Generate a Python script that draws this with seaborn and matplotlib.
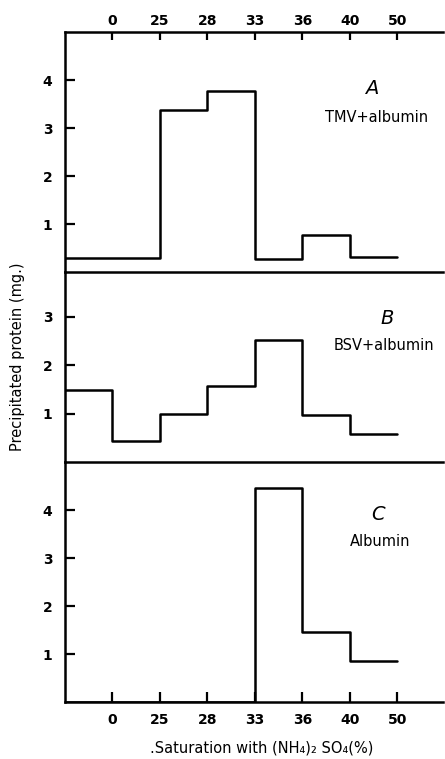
import matplotlib
matplotlib.use("Agg")
import matplotlib.pyplot as plt
import seaborn as sns
import numpy as np
import pandas as pd

# ---- data ----
x_labels = ["0", "25", "28", "33", "36", "40", "50"]
# segment values: [start..0], [0..25], [25..28], [28..33], [33..36], [36..40], [40..50]
tmv_albumin = [0.30, 0.30, 3.38, 3.77, 0.27, 0.77, 0.32]
bsv_albumin = [1.49, 0.44, 1.00, 1.57, 2.53, 0.97, 0.57]
albumin = [0.0, 0.0, 0.0, 0.0, 4.45, 1.46, 0.85]
panel_letters = ["A", "B", "C"]
panel_names = ["TMV+albumin", "BSV+albumin", "Albumin"]
y_ticks_A = [1, 2, 3, 4]
y_ticks_B = [1, 2, 3]
y_ticks_C = [1, 2, 3, 4]

sns.set_style("ticks")
plt.rcParams["font.family"] = ["DejaVu Sans"]
plt.rcParams["text.color"] = "black"
plt.rcParams["xtick.color"] = "black"
plt.rcParams["ytick.color"] = "black"
plt.rcParams["xtick.labelcolor"] = "black"
plt.rcParams["ytick.labelcolor"] = "black"

W, H = 445, 759
fig = plt.figure(figsize=(W / 100, H / 100), dpi=100)

def fx(px):
    return px / W

def fy(py):
    return 1 - py / H

left, right = 65, 443
bounds = [(32, 272), (272, 462), (462, 702)]
axes = []
for top, bot in bounds:
    ax = fig.add_axes([fx(left), fy(bot), fx(right) - fx(left), fy(top) - fy(bot)])
    axes.append(ax)

edges = list(range(-1, len(x_labels)))  # -1..6
series = [tmv_albumin, bsv_albumin, albumin]
ylims = [5.0, 3.93, 5.0]
yticks = [y_ticks_A, y_ticks_B, y_ticks_C]

for i, (ax, vals) in enumerate(zip(axes, series)):
    df = pd.DataFrame({"x": edges, "y": list(vals) + [vals[-1]]})
    sns.lineplot(data=df, x="x", y="y", ax=ax, drawstyle="steps-post",
                 color="black", lw=1.8, estimator=None, sort=False)
    ax.set_xlim(-1, 6.96)
    ax.set_ylim(0, ylims[i])
    ax.set_xlabel("")
    ax.set_ylabel("")
    for s in ["top", "bottom", "left", "right"]:
        ax.spines[s].set_linewidth(1.8)
        ax.spines[s].set_color("black")
    ax.spines["right"].set_visible(False)
    ax.spines["top"].set_visible(i == 0)
    ax.set_yticks(yticks[i])
    ax.set_yticklabels([str(t) for t in yticks[i]], fontsize=10, fontweight="bold")
    ax.tick_params(axis="y", direction="in", length=7, width=1.6, pad=9)
    ax.set_xticks(range(len(x_labels)))
    ax.set_xticklabels(x_labels, fontsize=10, fontweight="bold")
    if i == 0:
        ax.xaxis.tick_top()
        ax.tick_params(axis="x", direction="in", length=6, width=1.6, pad=3,
                       top=True, bottom=False, labeltop=True, labelbottom=False)
    elif i == 1:
        ax.tick_params(axis="x", bottom=False, top=False, labelbottom=False)
    else:
        ax.tick_params(axis="x", direction="in", length=7, width=1.6, pad=8)
    ax.patch.set_alpha(0)

# panel annotations
fig.text(fx(372), fy(88), "A", ha="center", va="center", fontsize=14, style="italic")
fig.text(fx(377), fy(118), "TMV+albumin", ha="center", va="center", fontsize=10.5)
fig.text(fx(387), fy(318), "B", ha="center", va="center", fontsize=14, style="italic")
fig.text(fx(384), fy(345), "BSV+albumin", ha="center", va="center", fontsize=10.5)
fig.text(fx(378), fy(515), "C", ha="center", va="center", fontsize=14, style="italic")
fig.text(fx(380), fy(542), "Albumin", ha="center", va="center", fontsize=10.5)

fig.text(fx(18), fy(357), "Precipitated protein (mg.)", rotation=90,
         ha="center", va="center", fontsize=10.5)
fig.text(fx(262), fy(748), ".Saturation with (NH\u2084)\u2082 SO\u2084(%)",
         ha="center", va="center", fontsize=10.5)

fig.savefig("out.png", dpi=100)
